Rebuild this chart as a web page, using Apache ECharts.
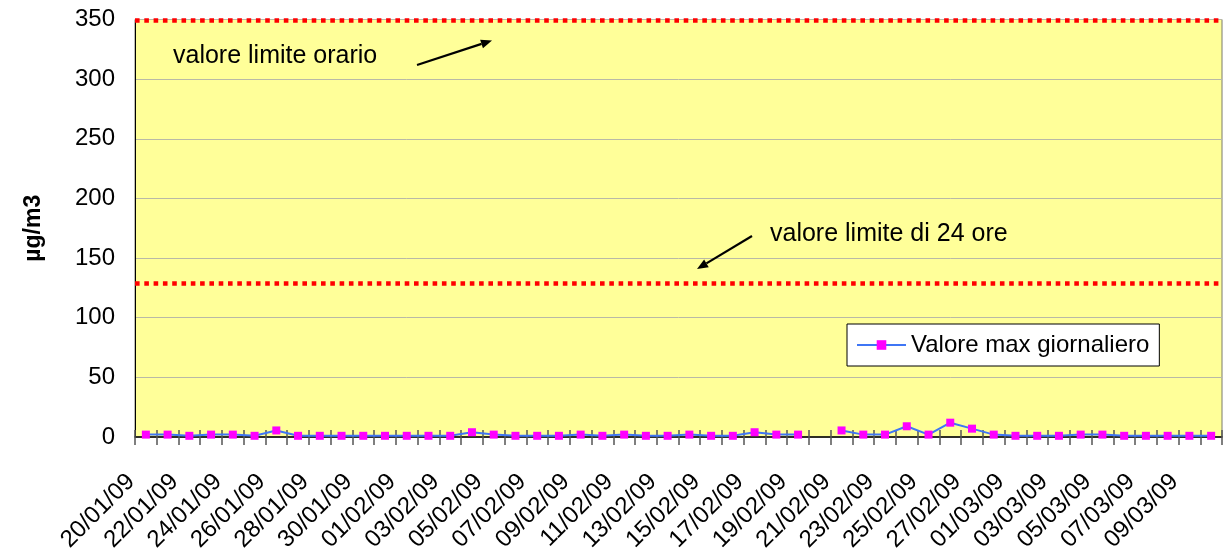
<!DOCTYPE html>
<html>
<head>
<meta charset="utf-8">
<script src="https://cdn.jsdelivr.net/npm/echarts@6/dist/echarts.min.js"></script>
<style>
  html, body { margin: 0; padding: 0; background: #ffffff; }
  #chart { width: 1224px; height: 555px; }
</style>
</head>
<body>
<div id="chart"></div>
<script>
// Giorni di misura (20/01/09 - 10/03/09)
const dates = [
  '20/01/09','21/01/09','22/01/09','23/01/09','24/01/09','25/01/09','26/01/09','27/01/09',
  '28/01/09','29/01/09','30/01/09','31/01/09',
  '01/02/09','02/02/09','03/02/09','04/02/09','05/02/09','06/02/09','07/02/09','08/02/09',
  '09/02/09','10/02/09','11/02/09','12/02/09','13/02/09','14/02/09','15/02/09','16/02/09',
  '17/02/09','18/02/09','19/02/09','20/02/09','21/02/09','22/02/09','23/02/09','24/02/09',
  '25/02/09','26/02/09','27/02/09','28/02/09',
  '01/03/09','02/03/09','03/03/09','04/03/09','05/03/09','06/03/09','07/03/09','08/03/09',
  '09/03/09','10/03/09'
];

// Valore massimo giornaliero (µg/m3); null = dato mancante
const maxGiornaliero = [
  2, 2, 1, 2, 2, 1, 5.5, 1,
  1, 1, 1, 1,
  1, 1, 1, 4, 2, 1, 1, 1,
  2, 1, 2, 1, 1, 2, 1, 1,
  4, 2, 2, null, 5.5, 2, 2, 9,
  2, 12, 7, 2,
  1, 1, 1, 2, 2, 1, 1, 1,
  1, 1
];

// Soglie di riferimento
const limiteOrario = 349;
const limite24Ore = 128.5;

const yTicks = { min: 0, max: 350, interval: 50 };

const FONT = 'Liberation Sans, Arial, sans-serif';

const chart = echarts.init(document.getElementById('chart'), null, { renderer: 'canvas' });

const GRID = { left: 135, right: 2, top: 19.5, bottom: 118 };

function arrow(x1, y1, x2, y2) {
  // segment plus a filled head at (x2, y2)
  const ang = Math.atan2(y2 - y1, x2 - x1);
  const L = 11, W = 4.5;
  const bx = x2 - L * Math.cos(ang), by = y2 - L * Math.sin(ang);
  const px = -Math.sin(ang) * W, py = Math.cos(ang) * W;
  return [
    { type: 'line', shape: { x1: x1, y1: y1, x2: bx, y2: by },
      style: { stroke: '#000', lineWidth: 2.2 }, z: 20 },
    { type: 'polygon', shape: { points: [[x2, y2], [bx + px, by + py], [bx - px, by - py]] },
      style: { fill: '#000' }, z: 20 }
  ];
}

chart.setOption({
  animation: false,
  backgroundColor: '#ffffff',
  textStyle: { fontFamily: FONT },
  grid: {
    left: GRID.left, right: GRID.right, top: GRID.top, bottom: GRID.bottom,
    show: true, backgroundColor: '#FFFF99', borderColor: '#7a7a6a', borderWidth: 1
  },
  legend: {
    left: 847, top: 324,
    padding: [9, 10, 9, 9],
    backgroundColor: '#ffffff',
    borderColor: '#000000', borderWidth: 1,
    itemWidth: 49, itemHeight: 12,
    textStyle: { fontFamily: FONT, fontSize: 24, color: '#000' },
    data: ['Valore max giornaliero']
  },
  xAxis: [
    {
      type: 'category', data: dates, boundaryGap: true,
      axisLine: { onZero: false, lineStyle: { color: '#000', width: 1.5 } },
      axisTick: { show: true, interval: 0, inside: false, length: 8, lineStyle: { color: '#555', width: 1.5 } },
      axisLabel: {
        interval: 1, rotate: 45, fontSize: 24, color: '#000', fontFamily: FONT,
        margin: 26, padding: [0, 21, 0, 0]
      },
      splitLine: { show: false }
    },
    {
      type: 'category', data: dates, boundaryGap: true, position: 'bottom',
      axisLine: { show: false },
      axisTick: { show: true, interval: 0, inside: true, length: 7, lineStyle: { color: '#555', width: 1.5 } },
      axisLabel: { show: false },
      splitLine: { show: false }
    }
  ],
  yAxis: {
    type: 'value', min: yTicks.min, max: yTicks.max, interval: yTicks.interval,
    name: 'µg/m3', nameLocation: 'middle', nameGap: 90, nameRotate: 90,
    nameTextStyle: { fontSize: 23, fontWeight: 'bold', color: '#000', fontFamily: FONT },
    axisLine: { show: true, lineStyle: { color: '#000', width: 1 } },
    axisTick: { show: false },
    axisLabel: { fontSize: 24, color: '#000', margin: 20, fontFamily: FONT },
    splitLine: { show: true, lineStyle: { color: '#b9b9a6', width: 1 } }
  },
  series: [
    {
      name: 'Valore max giornaliero',
      type: 'line',
      data: maxGiornaliero,
      connectNulls: false,
      symbol: 'rect', symbolSize: 8,
      lineStyle: { color: '#3F76F5', width: 2 },
      itemStyle: { color: '#FF00FF' },
      z: 5,
      markLine: {
        silent: true,
        symbol: ['none', 'none'],
        label: { show: false },
        lineStyle: { color: '#FF0000', width: 4.5, type: [4.6, 4.7] },
        data: [
          { yAxis: limiteOrario },
          { yAxis: limite24Ore }
        ]
      }
    }
  ],
  graphic: [
    { type: 'text', left: 173, top: 44, z: 20,
      style: { text: 'valore limite orario', fontSize: 25, fontFamily: FONT, fill: '#000' } },
    { type: 'text', left: 770, top: 222, z: 20,
      style: { text: 'valore limite di 24 ore', fontSize: 25, fontFamily: FONT, fill: '#000' } }
  ].concat(arrow(417, 65, 492, 40.5), arrow(752, 236, 697, 269))
});
</script>
</body>
</html>
